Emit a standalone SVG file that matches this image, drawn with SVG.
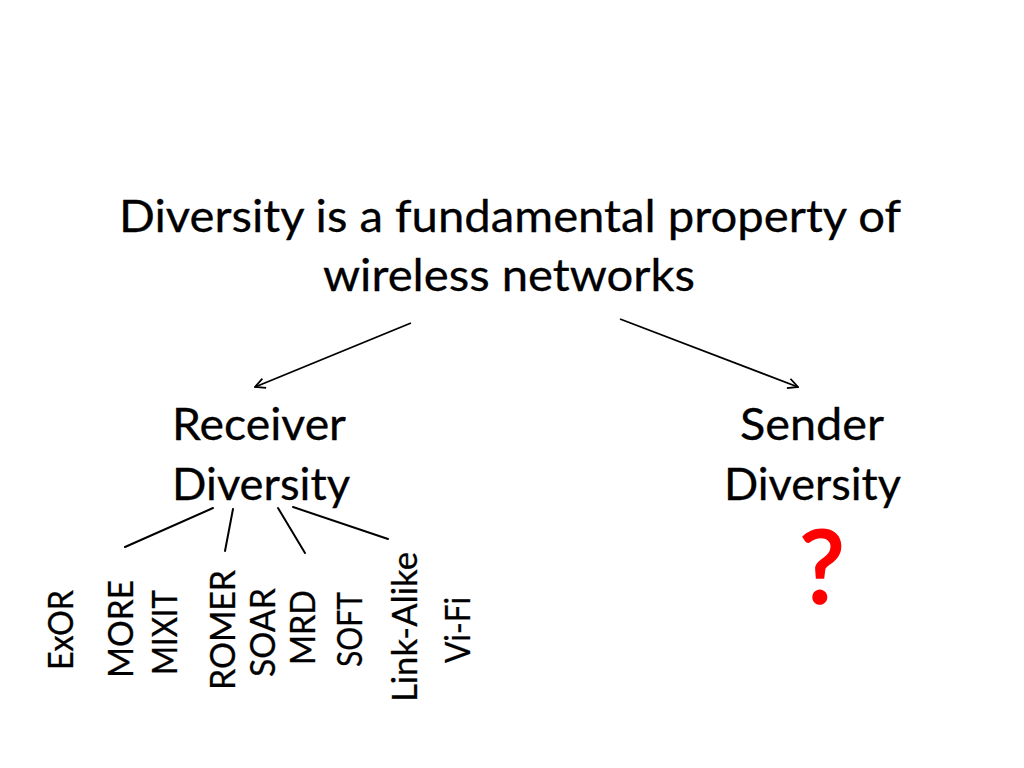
<svg xmlns="http://www.w3.org/2000/svg" width="1024" height="768" viewBox="0 0 1024 768">
<defs>
<style>
text{font-family:Lato,"Open Sans","Liberation Sans",sans-serif;fill:#000;stroke:#000;stroke-width:0.3;}
.big{font-size:45px;}
.lbl{font-size:35px;}
.c{text-anchor:middle;}
.ln{stroke:#000;stroke-width:2;fill:none;stroke-linecap:round;}
.ar{stroke:#000;stroke-width:1.8;fill:none;marker-end:url(#arr);}
</style>
<marker id="arr" viewBox="0 0 12 12" refX="11" refY="6" markerWidth="12" markerHeight="12" markerUnits="userSpaceOnUse" orient="auto">
<path d="M1,1 L11,6 L1,11" fill="none" stroke="#000" stroke-width="1.8"/>
</marker>
</defs>
<rect width="1024" height="768" fill="#fff"/>
<g id="root">
<text class="big c" x="510" y="232" textLength="782" lengthAdjust="spacingAndGlyphs">Diversity is a fundamental property of</text>
<text class="big c" x="509" y="291" textLength="372" lengthAdjust="spacingAndGlyphs">wireless networks</text>
</g>
<g id="receiver">
<text class="big" x="172" y="440" textLength="174" lengthAdjust="spacingAndGlyphs">Receiver</text>
<text class="big" x="172" y="500" textLength="178" lengthAdjust="spacingAndGlyphs">Diversity</text>
</g>
<g id="sender">
<text class="big" x="740" y="440" textLength="144" lengthAdjust="spacingAndGlyphs">Sender</text>
<text class="big" x="724" y="500" textLength="177" lengthAdjust="spacingAndGlyphs">Diversity</text>
<text x="822" y="603" class="c" style="font-size:100px;fill:#ff0000;stroke:#ff0000;stroke-width:2.5;">?</text>
</g>
<g id="connectors">
<line class="ar" x1="411" y1="323" x2="255" y2="387"/>
<line class="ar" x1="620" y1="319" x2="798" y2="387"/>
<line class="ln" x1="213" y1="508" x2="125" y2="547"/>
<line class="ln" x1="233" y1="509" x2="225" y2="551"/>
<line class="ln" x1="278" y1="508" x2="305" y2="553"/>
<line class="ln" x1="293" y1="507" x2="388" y2="539"/>
</g>
<g id="exor"><text class="lbl" transform="translate(73,670) rotate(-90)" textLength="80" lengthAdjust="spacingAndGlyphs">ExOR</text></g>
<g id="more"><text class="lbl" transform="translate(133,678) rotate(-90)" textLength="98" lengthAdjust="spacingAndGlyphs">MORE</text></g>
<g id="mixit"><text class="lbl" transform="translate(177,675) rotate(-90)" textLength="85" lengthAdjust="spacingAndGlyphs">MIXIT</text></g>
<g id="romer"><text class="lbl" transform="translate(235,690) rotate(-90)" textLength="120" lengthAdjust="spacingAndGlyphs">ROMER</text></g>
<g id="soar"><text class="lbl" transform="translate(275,677) rotate(-90)" textLength="89" lengthAdjust="spacingAndGlyphs">SOAR</text></g>
<g id="mrd"><text class="lbl" transform="translate(315,665) rotate(-90)" textLength="75" lengthAdjust="spacingAndGlyphs">MRD</text></g>
<g id="soft"><text class="lbl" transform="translate(362,667) rotate(-90)" textLength="75" lengthAdjust="spacingAndGlyphs">SOFT</text></g>
<g id="linkalike"><text class="lbl" transform="translate(417,702) rotate(-90)" textLength="150" lengthAdjust="spacingAndGlyphs">Link-Alike</text></g>
<g id="vifi"><text class="lbl" transform="translate(470,663) rotate(-90)" textLength="66" lengthAdjust="spacingAndGlyphs">Vi-Fi</text></g>
</svg>
